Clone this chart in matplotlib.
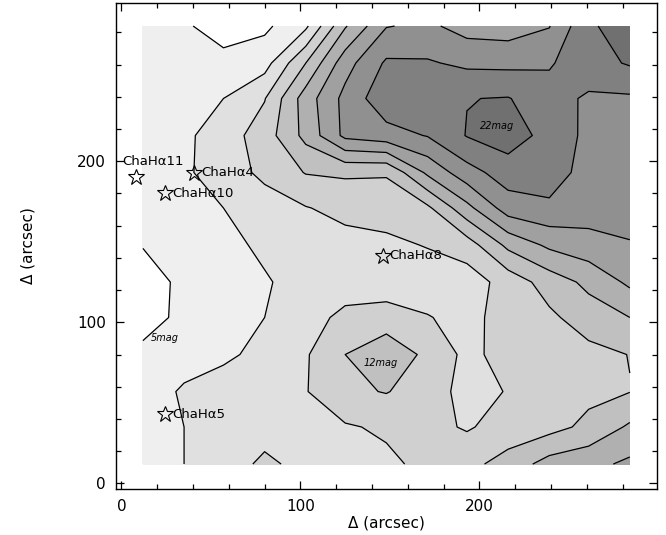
import matplotlib
matplotlib.use("Agg")
import matplotlib.pyplot as plt
import numpy as np

# map grid (arcsec) and extinction values (mag)
x_grid = [12, 35, 57, 80, 103, 125, 148, 171, 193, 216, 239, 261, 284]
y_grid = [12, 35, 57, 80, 103, 125, 148, 171, 193, 216, 239, 261, 284]
av = [
    [7.0, 8.0, 9.0, 10.4, 9.4, 9.3, 9.6, 10.5, 11.4, 12.8, 14.8, 15.4, 16.4],     # y=12
    [7.0, 8.0, 9.0, 9.2, 9.2, 9.8, 10.3, 10.6, 9.8, 10.8, 11.3, 12.5, 14.3],      # y=35
    [6.8, 8.3, 9.0, 9.2, 9.9, 11.6, 12.1, 11.0, 9.3, 10.1, 11.0, 11.5, 11.95],    # y=57
    [6.6, 7.0, 7.6, 8.6, 9.8, 12.0, 13.5, 11.5, 9.5, 10.7, 11.0, 11.4, 12.05],    # y=80
    [5.0, 6.6, 7.3, 8.0, 9.2, 10.5, 10.8, 10.1, 9.4, 10.8, 11.6, 13.0, 14.0],     # y=103
    [5.0, 6.5, 7.2, 7.8, 8.8, 9.0, 9.0, 9.0, 9.0, 10.8, 12.9, 14.5, 16.4],        # y=125
    [6.1, 6.8, 7.4, 8.4, 9.0, 9.3, 9.6, 10.1, 11.0, 14.5, 16.4, 17.2, 17.9],      # y=148
    [6.8, 7.0, 8.0, 9.0, 9.9, 10.6, 10.8, 11.6, 15.4, 19.0, 19.6, 19.0, 18.6],    # y=171
    [7.0, 7.7, 8.9, 10.5, 12.1, 12.3, 12.2, 16.4, 19.2, 21.0, 21.0, 19.2, 18.8],  # y=193
    [6.8, 7.6, 9.0, 11.0, 14.6, 18.5, 19.2, 20.1, 22.1, 23.0, 21.3, 19.5, 19.0],  # y=216
    [7.0, 7.0, 8.0, 9.9, 15.0, 18.6, 21.4, 21.4, 21.95, 22.1, 20.8, 19.7, 19.7],  # y=239
    [7.0, 6.8, 6.7, 7.2, 12.0, 17.2, 20.3, 20.2, 19.6, 19.5, 19.8, 21.2, 22.2],   # y=261
    [7.0, 6.3, 5.0, 5.6, 7.6, 13.8, 17.9, 18.4, 17.2, 17.0, 17.9, 21.7, 23.0],    # y=284
]
levels = [6, 8, 10, 12, 14, 16, 18, 20, 22]
grays = ['#ffffff', '#efefef', '#e0e0e0', '#d0d0d0', '#c0c0c0', '#b0b0b0',
         '#a0a0a0', '#909090', '#808080', '#707070']

stars = ['ChaH\u03b111', 'ChaH\u03b14', 'ChaH\u03b110', 'ChaH\u03b15', 'ChaH\u03b18']
star_x = [8.2, 40.8, 24.6, 24.6, 146]
star_y = [190.4, 193, 180, 42.9, 141.2]

mag_text = ['5mag', '12mag', '22mag']
mag_x = [24, 145, 210]
mag_y = [90, 75, 222]

fig = plt.figure(figsize=(6.66, 5.35), dpi=100)
ax = fig.add_axes([0.1737, 0.086, 0.8123, 0.9084])

X, Y = np.meshgrid(x_grid, y_grid)
Z = np.array(av)
ax.contourf(X, Y, Z, levels=[-100] + levels + [100], colors=grays)
ax.contour(X, Y, Z, levels=levels, colors='k', linewidths=0.9)

ax.plot(star_x, star_y, ls='none', marker='*', ms=12, mfc='none', mec='k', mew=0.8)
for i, s in enumerate(stars):
    if i == 0:
        ax.annotate(s, (star_x[i], star_y[i]), xytext=(-10, 6), textcoords='offset points',
                    ha='left', va='bottom', fontsize=9.5)
    else:
        ax.annotate(s, (star_x[i], star_y[i]), xytext=(5, 0), textcoords='offset points',
                    ha='left', va='center', fontsize=9.5)

for t, mx, my in zip(mag_text, mag_x, mag_y):
    ax.text(mx, my, t, fontsize=7, style='italic', ha='center', va='center')

ax.set_xlim(-3.2, 299)
ax.set_ylim(-3.5, 298.3)
ax.set_xticks([0, 100, 200])
ax.set_yticks([0, 100, 200])
ax.set_xticks(np.arange(0, 300, 20), minor=True)
ax.set_yticks(np.arange(0, 300, 20), minor=True)
ax.tick_params(which='both', direction='in', top=True, right=True, labelsize=11, width=0.9)
ax.tick_params(which='major', length=6, pad=7)
ax.tick_params(which='minor', length=3.5)
ax.set_xlabel('\u0394 (arcsec)', fontsize=11, labelpad=1)
ax.set_ylabel('\u0394 (arcsec)', fontsize=11, labelpad=30)
for sp in ax.spines.values():
    sp.set_linewidth(1.0)

fig.savefig('out.png', dpi=100)
